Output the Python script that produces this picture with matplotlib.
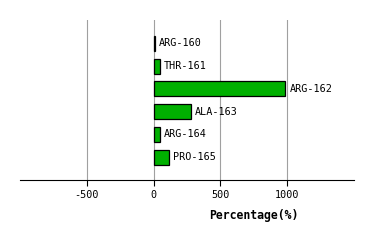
import numpy as np
import matplotlib
matplotlib.use("Agg")
import matplotlib.pyplot as plt

residues = ["ARG-160", "THR-161", "ARG-162", "ALA-163", "ARG-164", "PRO-165"]
percent = [8, 45, 987, 281, 45, 113]
xticks = [-500, 0, 500, 1000]

plt.rcParams["font.family"] = ["DejaVu Sans Mono"]

fig = plt.figure(figsize=(3.74, 2.4), dpi=100)
ax = fig.add_axes([20/374, 60/240, 334/374, 160/240])

y = np.arange(len(residues))
ax.barh(y, percent, height=0.66, color="#00b000", edgecolor="black", linewidth=0.9, zorder=3)

for yi, v, name in zip(y, percent, residues):
    ax.annotate(name, (v, yi), xytext=(3, 0), textcoords="offset points",
                va="center", ha="left", fontsize=7.3, zorder=4)

ax.set_xlim(-1000, 1500)
ax.set_ylim(6.0, -1.03)
ax.set_xticks(xticks)
ax.set_xticklabels([str(t) for t in xticks], fontsize=7.3)
ax.set_yticks([])
ax.tick_params(axis="x", length=4.5, width=0.8, pad=3)
ax.grid(axis="x", color="#a0a0a0", linewidth=0.8, zorder=0)

for s in ["top", "right", "left"]:
    ax.spines[s].set_visible(False)
ax.spines["bottom"].set_linewidth(0.8)

ax.set_xlabel("Percentage(%)", fontsize=8.3, fontweight="bold")
ax.xaxis.set_label_coords(0.70, -0.22)
ax.xaxis.label.set_va("center")

fig.savefig("out.png", dpi=100)
